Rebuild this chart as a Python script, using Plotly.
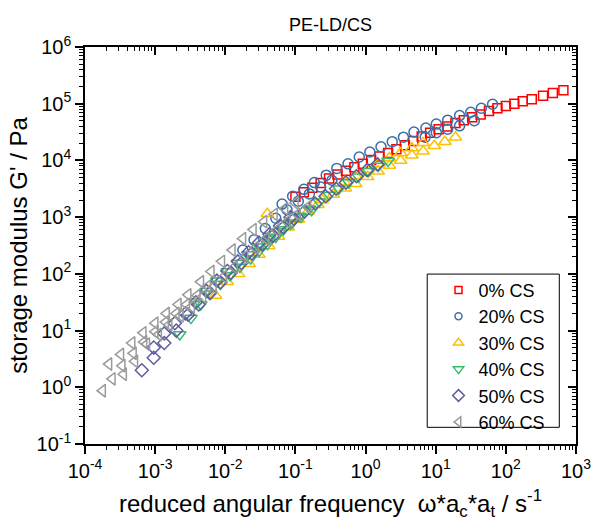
import plotly.graph_objects as go

# ---------------- data ----------------
# 0% CS
red_w = [0.100, 0.132, 0.174, 0.229, 0.302, 0.398, 0.525, 0.692, 0.912, 1.20, 1.58, 2.09, 2.75, 3.63,
         4.79, 6.31, 8.32, 11.0, 14.5, 19.1, 25.1, 33.1, 43.7, 57.5, 75.9, 100, 132, 174, 234, 339, 468, 661]
red_g = [2290, 2750, 3310, 3980, 4790, 5620, 6610, 7590, 8710, 10200, 11700, 13500, 15800, 18600,
         21900, 26300, 30900, 35500, 39800, 45700, 51300, 57500, 64600, 74100, 83200, 91200, 100000,
         110000, 120000, 138000, 155000, 172000]

# 20% CS
blue_w = [0.0178, 0.0257, 0.0372, 0.0525, 0.0759, 0.110, 0.158, 0.229, 0.331,
          0.0646, 0.0912, 0.132, 0.186, 0.275, 0.389, 0.562, 0.813, 1.15, 1.66, 2.40, 3.47, 4.90,
          7.24, 10.2, 14.8, 21.9, 31.6, 44.7, 64.6,
          7.08, 10.2, 14.8, 21.9, 35.5]
blue_g = [263, 398, 631, 955, 1350, 1910, 2570, 3390, 4470,
          1700, 2340, 3090, 4070, 5500, 7240, 8710, 11500, 14100, 17400, 21400, 25700, 31600,
          37200, 43700, 51300, 61700, 70800, 83200, 97700,
          25700, 30900, 35500, 40700, 50100]

# 30% CS
orange_w = [0.00724, 0.0107, 0.0155, 0.0219, 0.0302, 0.0417, 0.0575, 0.0794, 0.110, 0.151, 0.209,
            0.0398,
            0.501, 0.724, 1.05, 1.51, 2.19, 3.16, 4.57, 6.61,
            0.240, 0.347, 0.513, 0.724, 1.07, 1.51, 2.19, 3.16, 4.57, 6.61, 9.55, 13.5, 19.1]
orange_g = [41.7, 72.4, 100, 151, 219, 309, 457, 661, 912, 1260, 1660,
            1150,
            4170, 5370, 6920, 8710, 11000, 13500, 16600, 20400,
            2000, 2510, 3240, 3890, 5130, 6460, 8130, 10000, 12300, 14500, 18200, 21400, 25700]

# 40% CS
green_w = [0.00224, 0.00324, 0.00447, 0.00617, 0.00851, 0.0117, 0.0162, 0.0229, 0.0302, 0.0398,
           0.0525, 0.0676, 0.0891, 0.115, 0.158, 0.219, 0.302, 0.417, 0.575, 0.794, 1.10, 1.51, 2.09,
           0.00380, 0.00537, 0.00759, 0.0107, 0.0151, 0.0214, 0.0302, 0.0427, 0.0603, 0.0851, 0.120, 0.170]
green_g = [8.51, 16.6, 28.8, 44.7, 66.1, 93.3, 132, 186, 251, 331,
           447, 603, 794, 1050, 1410, 1860, 2450, 3160, 4070, 5130, 6460, 7940, 9770,
           32.4, 50.1, 75.9, 110, 155, 219, 302, 417, 562, 759, 1000, 1320]

# 50% CS
purple_w = [0.000646, 0.000955, 0.00135, 0.00200, 0.00295, 0.00417, 0.00603, 0.00851, 0.0120, 0.0170,
            0.0240, 0.0339, 0.0479, 0.0676, 0.0955, 0.135, 0.191, 0.269, 0.380, 0.525, 0.741, 1.05, 1.48,
            0.000955, 0.00135, 0.00191, 0.00269, 0.00380, 0.00537, 0.00759, 0.0107, 0.0151, 0.0214,
            0.0302, 0.0427, 0.0603, 0.0851]
purple_g = [2.00, 3.31, 6.03, 10.0, 19.1, 28.8, 45.7, 70.8, 105, 155,
            229, 331, 468, 661, 933, 1260, 1740, 2340, 3160, 4070, 5250, 6760, 8510,
            5.01, 8.91, 13.5, 20.0, 31.6, 50.1, 75.9, 112, 166, 240,
            355, 501, 708, 1000]

# 60% CS
gray_w = [0.000178, 0.000245, 0.000339, 0.000490, 0.000692, 0.00100, 0.00141, 0.00200, 0.00282, 0.00398, 0.00562,
          0.000219, 0.000324, 0.000468, 0.000676, 0.00100, 0.00145, 0.00214, 0.00295, 0.00447, 0.00631,
          0.00891, 0.0126, 0.0178, 0.0251, 0.0355, 0.0501, 0.0708, 0.100,
          0.000355, 0.000513, 0.000759, 0.00112, 0.00158, 0.00229, 0.00331, 0.00479, 0.00676, 0.00955,
          0.0135, 0.0191, 0.0269, 0.0380, 0.0537, 0.0759, 0.107, 0.151]
gray_g = [0.871, 1.41, 2.40, 3.98, 6.31, 9.55, 14.1, 20.0, 28.8, 41.7, 60.3,
          2.57, 3.80, 6.03, 9.12, 13.5, 20.0, 28.8, 42.7, 72.4, 110,
          166, 263, 417, 603, 832, 1120, 1410, 1780,
          1.70, 2.88, 5.75, 8.51, 12.6, 18.2, 26.3, 39.8, 58.9, 89.1,
          132, 200, 288, 417, 589, 832, 1120, 1510]

series_names = ["0% CS", "20% CS", "30% CS", "40% CS", "50% CS", "60% CS"]
series_w = [red_w, blue_w, orange_w, green_w, purple_w, gray_w]
series_g = [red_g, blue_g, orange_g, green_g, purple_g, gray_g]
colors = ["#FF0000", "#3A6FA8", "#FFC000", "#3CB96A", "#5A5EA0", "#9A9A9A"]
symbols = ["square-open", "circle-open", "triangle-up-open", "triangle-down-open",
           "diamond-open", "triangle-left-open"]
sizes = [9, 10, 11, 11, 10, 11]
legend_sizes = [7, 7, 9, 9, 9, 9]

x_tick_vals = [1e-4, 1e-3, 1e-2, 1e-1, 1e0, 1e1, 1e2, 1e3]
x_tick_text = ["10<sup>-4</sup>", "10<sup>-3</sup>", "10<sup>-2</sup>", "10<sup>-1</sup>",
               "10<sup>0</sup>", "10<sup>1</sup>", "10<sup>2</sup>", "10<sup>3</sup>"]
y_tick_vals = [1e-1, 1e0, 1e1, 1e2, 1e3, 1e4, 1e5, 1e6]
y_tick_text = ["10<sup>-1</sup>", "10<sup>0</sup>", "10<sup>1</sup>", "10<sup>2</sup>",
               "10<sup>3</sup>", "10<sup>4</sup>", "10<sup>5</sup>", "10<sup>6</sup>"]

x_minor = [m * 10.0 ** e for e in range(-4, 3) for m in range(2, 10)]
y_minor = [m * 10.0 ** e for e in range(-1, 6) for m in range(2, 10)]

FONT = "Liberation Sans, Arial, sans-serif"

fig = go.Figure()

for name, w, g, c, s, sz in zip(series_names, series_w, series_g, colors, symbols, sizes):
    fig.add_trace(go.Scatter(
        x=w, y=g, mode="markers", name=name, showlegend=False,
        marker=dict(symbol=s, size=sz, color=c, line=dict(color=c, width=1.5)),
    ))

# legend entries (smaller symbols as in the reference legend)
for name, c, s, sz in zip(series_names, colors, symbols, legend_sizes):
    fig.add_trace(go.Scatter(
        x=[None], y=[None], mode="markers", name=name, showlegend=True,
        marker=dict(symbol=s, size=sz, color=c, line=dict(color=c, width=1.5)),
    ))

# dummy trace to activate the mirrored (inward tick) axes
fig.add_trace(go.Scatter(x=[None], y=[None], xaxis="x2", yaxis="y2",
                         showlegend=False, hoverinfo="skip"))

axis_common = dict(
    type="log", showline=True, linecolor="black", linewidth=1.5, mirror=True,
    ticks="outside", ticklen=8, tickwidth=1.5, tickcolor="black",
    showgrid=False, zeroline=False, tickmode="array",
    tickfont=dict(family=FONT, size=20, color="black"),
)

fig.update_layout(
    width=603, height=525, autosize=False,
    margin=dict(l=85, r=20, t=47, b=76),
    paper_bgcolor="white", plot_bgcolor="white",
    font=dict(family=FONT, color="black"),
    title=dict(text="PE-LD/CS", font=dict(family=FONT, size=18, color="black"),
               x=0.5, xref="paper", xanchor="center", y=1 - 25 / 525, yref="container", yanchor="middle"),
    xaxis=dict(
        **axis_common, range=[-4, 3], tickvals=x_tick_vals, ticktext=x_tick_text,
        minor=dict(tickmode="array", tickvals=x_minor, ticks="outside", ticklen=4, tickwidth=1,
                   tickcolor="black", showgrid=False),
        title=dict(text="reduced angular frequency  ω*a<sub>c</sub>*a<sub>t</sub> / s<sup>-1</sup>",
                   font=dict(family=FONT, size=24, color="black"), standoff=14),
    ),
    yaxis=dict(
        **axis_common, range=[-1, 6], tickvals=y_tick_vals, ticktext=y_tick_text,
        minor=dict(tickmode="array", tickvals=y_minor, ticks="outside", ticklen=4, tickwidth=1,
                   tickcolor="black", showgrid=False),
        title=dict(text="storage modulus G' / Pa",
                   font=dict(family=FONT, size=24, color="black"), standoff=2),
    ),
    xaxis2=dict(type="log", range=[-4, 3], overlaying="x", side="top", anchor="y2",
                showline=False, showgrid=False, zeroline=False, showticklabels=False,
                tickmode="array", tickvals=x_tick_vals, ticks="inside", ticklen=8, tickwidth=1.5,
                tickcolor="black",
                minor=dict(tickmode="array", tickvals=x_minor, ticks="inside", ticklen=4, tickwidth=1,
                           tickcolor="black", showgrid=False)),
    yaxis2=dict(type="log", range=[-1, 6], overlaying="y", side="right", anchor="x2",
                showline=False, showgrid=False, zeroline=False, showticklabels=False,
                tickmode="array", tickvals=y_tick_vals, ticks="inside", ticklen=8, tickwidth=1.5,
                tickcolor="black",
                minor=dict(tickmode="array", tickvals=y_minor, ticks="inside", ticklen=4, tickwidth=1,
                           tickcolor="black", showgrid=False)),
    legend=dict(
        x=0.720, y=0.434, xanchor="left", yanchor="top",
        bgcolor="rgba(0,0,0,0)", borderwidth=0,
        font=dict(family=FONT, size=18, color="black"),
        itemsizing="trace", tracegroupgap=0,
    ),
    shapes=[dict(type="rect", xref="paper", yref="paper",
                 x0=0.697, x1=0.966, y0=0.042, y1=0.428,
                 line=dict(color="black", width=1), fillcolor="white", layer="below")],
)

fig.write_html("out.html")
